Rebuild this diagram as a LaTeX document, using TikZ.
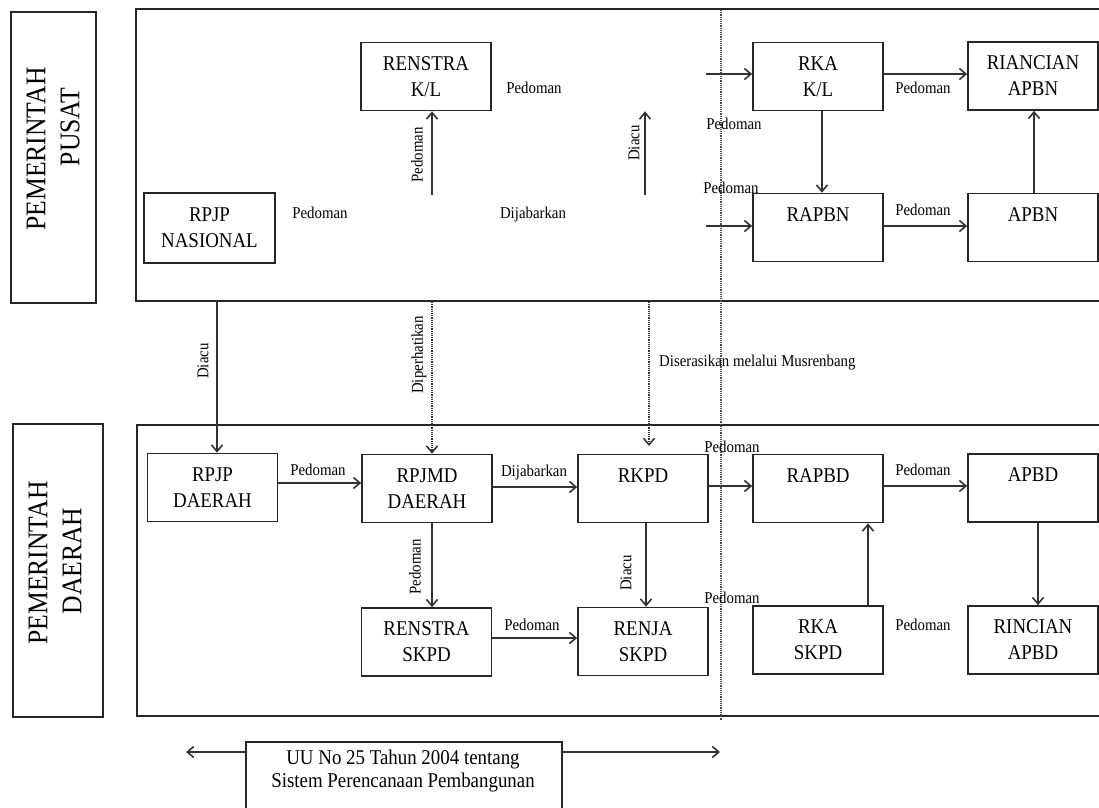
\documentclass[tikz,border=0pt]{standalone}
\usepackage{fontspec}
\setmainfont{Liberation Serif}[FakeStretch=0.9]
\usetikzlibrary{arrows.meta}
\begin{document}
\begin{tikzpicture}[x=1pt,y=-1pt,
  blk/.style={draw=black!85, line width=1.7pt, minimum width=130pt, minimum height=68pt,
    inner sep=0pt, align=center, font=\fontsize{21}{26}\selectfont},
  lbl/.style={font=\fontsize{16.5}{19}\selectfont, inner sep=0pt},
  side/.style={draw=black!85, line width=1.7pt, inner sep=0pt},
  sidetxt/.style={font=\fontsize{28.5}{32}\selectfont, inner sep=0pt, rotate=90},
  panel/.style={draw=black!85, line width=1.7pt, inner sep=0pt, anchor=north west},
  arr/.style={draw=black!80, line width=1.6pt, -{Straight Barb[length=6.5pt,width=11pt]}},
  dotarr/.style={arr, dash pattern=on 1.2pt off 1pt},
  dotline/.style={draw=black!70, line width=1.5pt, dash pattern=on 1.2pt off 1pt}]
\useasboundingbox (0,0) rectangle (1099,807);

% side labels
\node[side, minimum width=85pt, minimum height=291pt] (lpusat) at (53.5,157.5) {};
\node[sidetxt] (tp1) at (36,149) {PEMERINTAH};
\node[sidetxt] (tp2) at (70,127) {PUSAT};
\node[side, minimum width=90pt, minimum height=293pt] (ldaerah) at (58,570.5) {};
\node[sidetxt] (td1) at (38,563) {PEMERINTAH};
\node[sidetxt] (td2) at (72,561) {DAERAH};

% panels
\node[panel, minimum width=980pt, minimum height=292pt] (pusat) at (135,8) {};
\node[panel, minimum width=980pt, minimum height=291pt] (daerah) at (136,424) {};

% vertical dotted divider
\coordinate (dv1) at (721,10);
\coordinate (dv2) at (721,720);
\draw[dotline] (dv1) -- (dv2);

% top boxes
\node[blk, minimum width=131pt, minimum height=70pt] (rpjpn) at (209.5,228) {RPJP\\NASIONAL};
\node[blk] (renkl) at (426,76.5) {RENSTRA\\K/L};
\node[blk] (rkakl) at (818,76.5) {RKA\\K/L};
\node[blk] (rincapbn) at (1033,76) {RIANCIAN\\APBN};
\node[blk] (rapbn) at (818,227.5) {RAPBN\\\mbox{}};
\node[blk] (apbn) at (1033,227.5) {APBN\\\mbox{}};

% bottom boxes
\node[blk] (rpjpd) at (212.5,487.5) {RPJP\\DAERAH};
\node[blk] (rpjmd) at (427,488.5) {RPJMD\\DAERAH};
\node[blk] (rkpd) at (643,488.5) {RKPD\\\mbox{}};
\node[blk] (rapbd) at (818,488.5) {RAPBD\\\mbox{}};
\node[blk] (apbd) at (1033,488) {APBD\\\mbox{}};
\node[blk] (renskpd) at (426.5,642) {RENSTRA\\SKPD};
\node[blk] (renja) at (643,641.5) {RENJA\\SKPD};
\node[blk] (rkaskpd) at (818,640) {RKA\\SKPD};
\node[blk] (rincapbd) at (1033,640) {RINCIAN\\APBD};

% top labels
\node[lbl] (l1) at (320,213) {Pedoman};
\node[lbl] (l2) at (534,88) {Pedoman};
\node[lbl] (l3) at (533,215) {Dijabarkan};
\node[lbl, rotate=90] (l4) at (417,155) {Pedoman};
\node[lbl, rotate=90] (l5) at (634,143) {Diacu};
\node[lbl] (l6) at (734,124) {Pedoman};
\node[lbl] (l7) at (731,188) {Pedoman};
\node[lbl] (l8) at (923,88) {Pedoman};
\node[lbl] (l9) at (923,210) {Pedoman};

% top arrows
\coordinate (a1) at (432,195);
\draw[arr] (a1) -- (a1 |- renkl.south);
\coordinate (a2) at (645,195);
\draw[arr] (a2) -- (a2 |- renkl.south);
\coordinate (a3) at (706,74);
\draw[arr] (a3) -- (a3 -| rkakl.west);
\coordinate (a4) at (706,226);
\draw[arr] (a4) -- (a4 -| rapbn.west);
\draw[arr] (rkakl.east |- 0,74) -- (rincapbn.west |- 0,74);
\draw[arr] (rkakl.south -| 822,0) -- (rapbn.north -| 822,0);
\draw[arr] (rapbn.east |- 0,226) -- (apbn.west |- 0,226);
\draw[arr] (apbn.north -| 1034,0) -- (rincapbn.south -| 1034,0);

% between panels
\coordinate (b1) at (217,300);
\draw[arr] (b1) -- (b1 |- rpjpd.north);
\node[lbl, rotate=90] (l10) at (203,361) {Diacu};
\coordinate (b2) at (432,302);
\draw[dotarr] (b2) -- (b2 |- rpjmd.north);
\node[lbl, rotate=90] (l11) at (419,355) {Diperhatikan};
\coordinate (b3) at (649,302);
\coordinate (b4) at (649,446);
\draw[dotarr] (b3) -- (b4);
\node[lbl, anchor=west] (l12) at (659,363) {Diserasikan melalui Musrenbang};

% bottom labels
\node[lbl] (m1) at (318,470) {Pedoman};
\node[lbl] (m2) at (534,473) {Dijabarkan};
\node[lbl] (m3) at (732,447) {Pedoman};
\node[lbl] (m4) at (923,470) {Pedoman};
\node[lbl, rotate=90] (m5) at (415,567) {Pedoman};
\node[lbl, rotate=90] (m6) at (626,573) {Diacu};
\node[lbl] (m7) at (532,625) {Pedoman};
\node[lbl] (m8) at (732,598) {Pedoman};
\node[lbl] (m9) at (923,625) {Pedoman};

% bottom arrows
\draw[arr] (rpjpd.east |- 0,483) -- (rpjmd.west |- 0,483);
\draw[arr] (rpjmd.east |- 0,487) -- (rkpd.west |- 0,487);
\draw[arr] (rkpd.east |- 0,486) -- (rapbd.west |- 0,486);
\draw[arr] (rapbd.east |- 0,486) -- (apbd.west |- 0,486);
\draw[arr] (rpjmd.south -| 432,0) -- (renskpd.north -| 432,0);
\draw[arr] (rkpd.south -| 646,0) -- (renja.north -| 646,0);
\draw[arr] (renskpd.east |- 0,638) -- (renja.west |- 0,638);
\draw[arr] (rkaskpd.north -| 868,0) -- (rapbd.south -| 868,0);
\draw[arr] (apbd.south -| 1038,0) -- (rincapbd.north -| 1038,0);

% UU box
\node[draw=black!85, line width=1.7pt, minimum width=316pt, minimum height=90pt, inner sep=0pt,
  anchor=north west] (uu) at (245,741) {};
\node[font=\fontsize{21}{22.5}\selectfont, align=center, inner sep=0pt] (uutxt) at (403,771)
  {UU No 25 Tahun 2004 tentang\\Sistem Perencanaan Pembangunan};
\coordinate (u1) at (186,752);
\coordinate (u2) at (720,752);
\draw[arr] (uu.west |- u1) -- (u1);
\draw[arr] (uu.east |- u2) -- (u2);
\end{tikzpicture}
\end{document}
